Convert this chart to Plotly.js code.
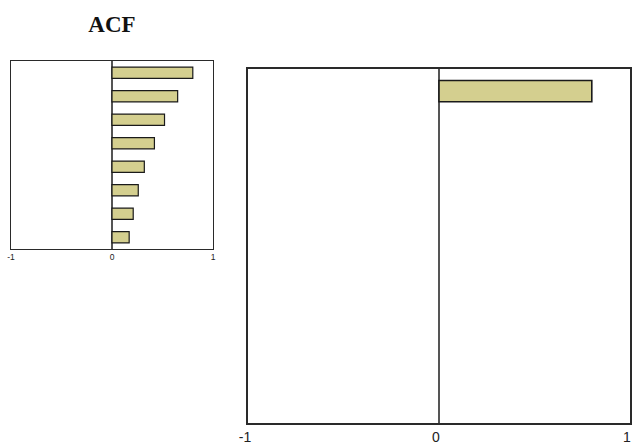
<!DOCTYPE html>
<html><head><meta charset="utf-8">
<script src="https://cdn.plot.ly/plotly-3.0.1.min.js"></script>
<style>html,body{margin:0;padding:0;background:#fff;}</style>
</head><body>
<div id="chart" style="width:632px;height:445px;"></div>
<script>
const lags = [1, 2, 3, 4, 5, 6, 7, 8];
const acf = [0.80, 0.65, 0.52, 0.42, 0.32, 0.26, 0.21, 0.17];
const bigLags = lags.slice(0, 1);
const bigAcf = acf.slice(0, 1);
const tickVals = [-1, 0, 1];
const tickText = ['-1', '0', '1'];

const W = 632, H = 445;

const traces = [
  {type: 'bar', orientation: 'h', x: acf, y: lags, xaxis: 'x', yaxis: 'y',
   width: 0.48, marker: {color: '#d4cf8f', line: {color: '#1a1a1a', width: 1.2}}, hoverinfo: 'none'},
  {type: 'bar', orientation: 'h', x: bigAcf, y: bigLags, xaxis: 'x2', yaxis: 'y2',
   width: 0.48, marker: {color: '#d4cf8f', line: {color: '#1a1a1a', width: 1.6}}, hoverinfo: 'none'}
];

function xax(l, r, fs, lw, shift) {
  return {domain: [l / W, r / W], range: [-1, 1], tickvals: tickVals, ticktext: tickText,
    showgrid: false, zeroline: true, zerolinecolor: '#555', zerolinewidth: lw,
    showline: true, mirror: true, linecolor: '#2a2a2a', linewidth: lw,
    ticks: '', ticklabelshift: shift, ticklabeloverflow: 'allow',
    tickfont: {family: 'Liberation Sans, Arial', size: fs, color: '#222'}, fixedrange: true};
}
function yax(t, b, lw, anchor) {
  return {domain: [1 - b / H, 1 - t / H], range: [8.5, 0.5], showticklabels: false,
    showgrid: false, zeroline: false, showline: true, mirror: true,
    linecolor: '#2a2a2a', linewidth: lw, ticks: '', anchor: anchor, fixedrange: true};
}

const layout = {
  width: W, height: H, margin: {l: 0, r: 0, t: 0, b: 0},
  paper_bgcolor: '#fff', plot_bgcolor: '#fff', showlegend: false,
  title: {text: '<b>ACF</b>', x: 112 / W, xanchor: 'center', y: 1 - 24 / H, yanchor: 'middle',
    font: {family: 'Liberation Serif, Times New Roman', size: 23, color: '#111'}},
  xaxis: Object.assign(xax(11, 213, 8.5, 1.2, 0), {anchor: 'y'}),
  yaxis: yax(61, 249, 1.2, 'x'),
  xaxis2: Object.assign(xax(248, 630, 14, 1.8, -3), {anchor: 'y2'}),
  yaxis2: yax(69, 423, 1.8, 'x2')
};

Plotly.newPlot('chart', traces, layout, {displayModeBar: false, staticPlot: true});
</script>
</body></html>
